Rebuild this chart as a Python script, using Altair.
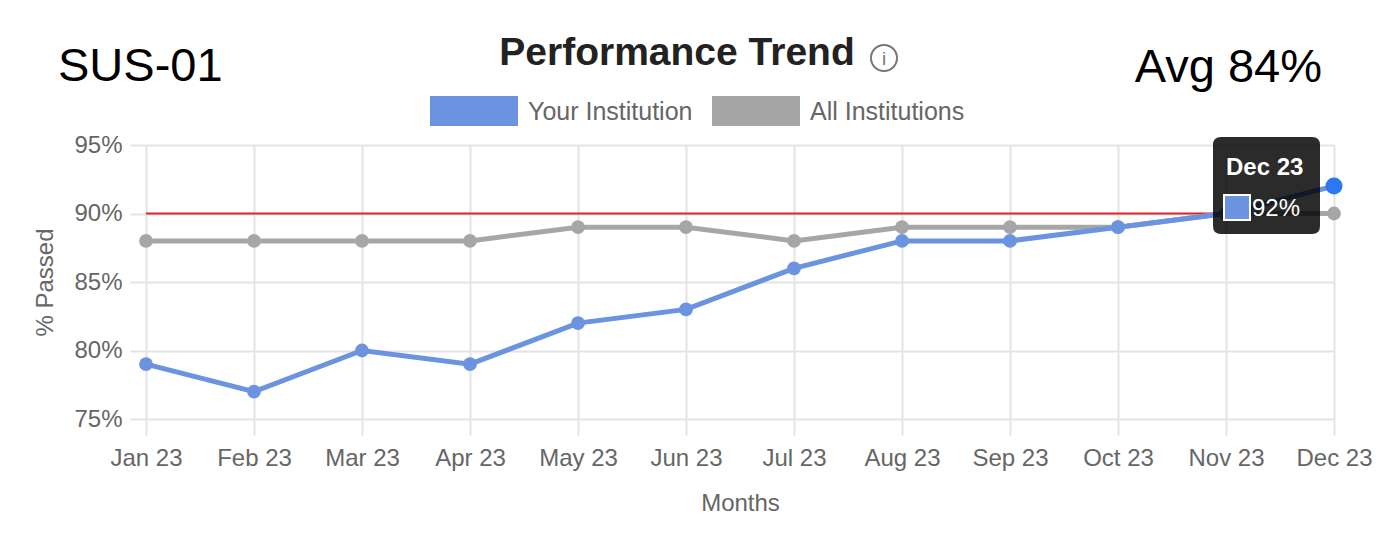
import json
import altair as alt
import pandas as pd

# ---------------- data ----------------
months = ["Jan 23", "Feb 23", "Mar 23", "Apr 23", "May 23", "Jun 23",
          "Jul 23", "Aug 23", "Sep 23", "Oct 23", "Nov 23", "Dec 23"]
your_institution = [79, 77, 80, 79, 82, 83, 86, 88, 88, 89, 90, 92]
all_institutions = [88, 88, 88, 88, 89, 89, 88, 89, 89, 89, 90, 90]
series_names = ["Your Institution", "All Institutions"]
series_colors = ["#6b93e0", "#a6a6a6"]
target = 90
y_ticks = [75, 80, 85, 90, 95]
hover_month = "Dec 23"

FONT = "Liberation Sans"
GRID = "#e4e4e4"
LABEL = "#666666"

rows = []
for name, vals in [(series_names[1], all_institutions), (series_names[0], your_institution)]:
    for i, (m, v) in enumerate(zip(months, vals)):
        rows.append({"idx": i, "month": m, "series": name, "value": v})
df = pd.DataFrame(rows)

hi = months.index(hover_month)
df_tip = pd.DataFrame({"idx": [hi], "value": [your_institution[hi]],
                       "title": [hover_month], "label": [f"{your_institution[hi]}%"]})
df_target = pd.DataFrame({"idx": [0], "idx2": [len(months) - 1], "value": [target]})
df_one = pd.DataFrame({"a": [0]})

color_scale = alt.Scale(domain=series_names, range=series_colors)
x_scale = alt.Scale(domain=[0, len(months) - 1], nice=False, zero=False)
y_scale = alt.Scale(domain=[75, 95], nice=False, zero=False)

x_axis = alt.Axis(values=list(range(len(months))),
                  labelExpr=f"{json.dumps(months)}[datum.value]",
                  title="Months", titleFontSize=24, titleColor=LABEL,
                  titleFontWeight="normal", titleFont=FONT, titlePadding=21,
                  labelFont=FONT, labelFontSize=24, labelColor=LABEL,
                  labelPadding=11, tickSize=16, tickColor=GRID, tickWidth=2,
                  grid=True, gridColor=GRID, gridWidth=2, domain=False,
                  labelFlush=False, labelOverlap=False)
y_axis = alt.Axis(values=y_ticks, labelExpr="datum.value + '%'",
                  title="% Passed", titleFontSize=24, titleColor=LABEL,
                  titleFontWeight="normal", titleFont=FONT, titlePadding=16,
                  labelFont=FONT, labelFontSize=24, labelColor=LABEL,
                  labelPadding=8, tickSize=16, tickColor=GRID, tickWidth=2,
                  grid=True, gridColor=GRID, gridWidth=2, domain=False)

x_enc = alt.X("idx:Q", scale=x_scale, axis=x_axis)
y_enc = alt.Y("value:Q", scale=y_scale, axis=y_axis)

rule = alt.Chart(df_target).mark_rule(color="#d9252e", strokeWidth=2).encode(
    x=x_enc, x2="idx2", y=y_enc,
)

lines = alt.Chart(df).mark_line(strokeWidth=5).encode(
    x=x_enc, y=y_enc,
    stroke=alt.Stroke("series:N", scale=color_scale, legend=None),
)

points = alt.Chart(df).mark_circle(size=190, opacity=1).encode(
    x=x_enc, y=y_enc,
    color=alt.Color("series:N", scale=color_scale, legend=None),
)

tip_box_path = ("M-2.26,-0.98H-0.44Q-0.28,-0.98,-0.28,-0.82V0.8Q-0.28,0.96,-0.44,0.96"
                "H-2.26Q-2.42,0.96,-2.42,0.8V-0.82Q-2.42,-0.98,-2.26,-0.98Z")
tip_box = alt.Chart(df_tip).mark_point(shape=tip_box_path, size=10000, filled=True,
                                       color="#000000", opacity=0.83, strokeWidth=0).encode(
    x=x_enc, y=y_enc)

tip_square = alt.Chart(df_tip).mark_point(shape="M-11,0.9H-8.4V3.4H-11Z", size=400, filled=True,
                                          fill=series_colors[0], stroke="#ffffff",
                                          strokeWidth=2, opacity=1).encode(x=x_enc, y=y_enc)

tip_title = alt.Chart(df_tip).mark_text(align="left", baseline="alphabetic", dx=-108, dy=-11,
                                        font=FONT, fontSize=24, fontWeight="bold",
                                        color="#ffffff").encode(x=x_enc, y=y_enc, text="title:N")
tip_label = alt.Chart(df_tip).mark_text(align="left", baseline="alphabetic", dx=-82, dy=30,
                                        font=FONT, fontSize=24,
                                        color="#ffffff").encode(x=x_enc, y=y_enc, text="label:N")

hi_point = alt.Chart(df_tip).mark_circle(size=290, opacity=1, color="#2b78f4").encode(x=x_enc, y=y_enc)


def label(text, x, y, size, align="left", weight="normal", color="#000000", baseline="alphabetic"):
    return alt.Chart(df_one).mark_text(align=align, baseline=baseline, font=FONT,
                                       fontSize=size, fontWeight=weight, color=color).encode(
        x=alt.value(x), y=alt.value(y), text=alt.value(text))


# legend (drawn manually: coloured bars + labels)
legend_path = "M-1,-0.34H1V0.34H-1Z"
legend_symbol_x = [328, 610]
legend_label_x = [382, 664]
legend_layers = []
for name, col, sx, lx in zip(series_names, series_colors, legend_symbol_x, legend_label_x):
    legend_layers.append(
        alt.Chart(df_one).mark_point(shape=legend_path, size=7744, filled=True, fill=col,
                                     strokeWidth=0, opacity=1).encode(
            x=alt.value(sx), y=alt.value(-34)))
    legend_layers.append(label(name, lx, -33, 25, color=LABEL, baseline="middle"))

sus = label("SUS-01", -88, -64, 47)
avg = label("Avg 84%", 1176, -63, 47, align="right")
title = label("Performance Trend", 531, -80, 39, align="center", weight="bold", color="#222222")
info_circle = alt.Chart(df_one).mark_point(shape="circle", size=676, filled=False,
                                           color="#777777", strokeWidth=2, opacity=1).encode(
    x=alt.value(738), y=alt.value(-87))
info_i = alt.Chart(df_one).mark_text(align="center", baseline="middle", font=FONT, fontSize=19,
                                     color="#777777").encode(
    x=alt.value(738), y=alt.value(-86), text=alt.value("i"))

chart = alt.layer(
    rule, lines, points, tip_box, tip_square, tip_title, tip_label, hi_point,
    *legend_layers, sus, avg, title, info_circle, info_i,
).properties(
    width=1188, height=274,
    autosize=alt.AutoSizeParams(type="none"),
    padding={"left": 138, "top": 137, "right": 40, "bottom": 125},
    background="#ffffff",
).configure_view(strokeWidth=0)

chart.save("out.html", embed_options={"renderer": "svg", "actions": False})
